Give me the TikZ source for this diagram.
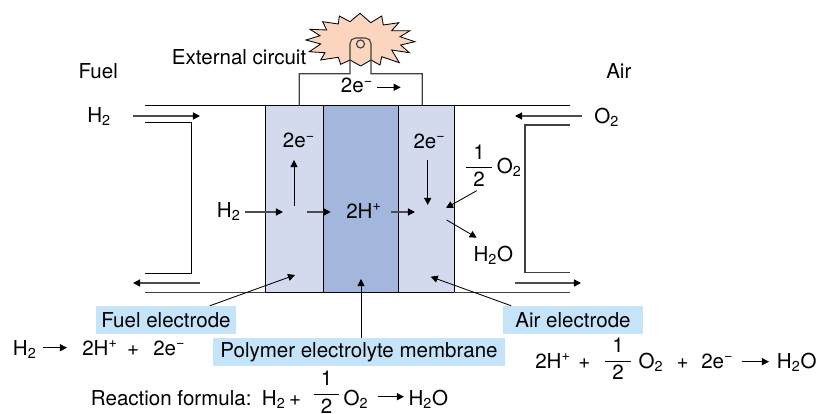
\documentclass[tikz,border=0pt]{standalone}
\usepackage{fontspec}
\setmainfont{TeX Gyre Heros}
\usetikzlibrary{arrows.meta}

\definecolor{plate}{HTML}{D3DAED}
\definecolor{membr}{HTML}{A3B7DC}
\definecolor{tagblue}{HTML}{C5E4F9}
\definecolor{burst}{HTML}{FBD5BD}

\newcommand{\px}{0.025cm}
\newcommand{\half}{$\displaystyle\frac{\mbox{1}}{\makebox[18pt]{2}}$}
\newcommand{\sbs}[1]{\textsubscript{#1}}
\newcommand{\sps}[1]{\textsuperscript{#1}}

\tikzset{
  every node/.style={font=\fontsize{14.6}{17}\selectfont,inner sep=0pt},
  lbl/.style={anchor=base west},
  mid/.style={anchor=base},
  tagbox/.style={fill=tagblue,minimum height=28*\px},
  wall/.style={line width=.6pt},
  flow/.style={-{Triangle[length=5pt,width=5pt]},line width=.6pt},
  gasflow/.style={-{Triangle[length=5pt,width=5pt,color=black]},color=black!70,line width=.9pt},
  channel/.style={color=black!75,line width=.8pt}
}

\begin{document}
\begin{tikzpicture}[x=\px,y=-\px]
  \useasboundingbox (0,0) rectangle (818,414);

  % cell
  \fill[plate] (265,105) rectangle (454,292.7);
  \fill[membr] (323.3,105) rectangle (398.3,292.7);
  \draw[wall] (265,105) rectangle (454,292.7);
  \draw[wall] (323.3,105) -- (323.3,292.7);
  \draw[wall] (398.3,105) -- (398.3,292.7);

  % channels
  \draw[wall] (145,105) -- (265,105);
  \draw[wall] (454,105) -- (570,105);
  \draw[channel] (145,292.7) -- (265,292.7);
  \draw[channel] (454,292.7) -- (570,292.7);
  \draw[wall] (145,122.7) -- (191.7,122.7) -- (191.7,273.3) -- (145,273.3);
  \draw[channel] (570,125) -- (525,125) -- (525,272.3) -- (570,272.3);

  % lamp and circuit
  \filldraw[fill=burst,wall] (360,13.3) -- (370.7,22.7) -- (381.7,16) -- (383.3,25)
    -- (398.7,22.7) -- (391.7,30.7) -- (410,30.7) -- (400,36.7) -- (415,41.7) -- (400.7,45)
    -- (409.3,52.7) -- (391.7,50) -- (399.3,62.7) -- (381.7,56.7) -- (380,65) -- (371,60)
    -- (360.7,66) -- (350,60) -- (340.7,64.3) -- (338.3,57.3) -- (320.7,60) -- (325,52.7)
    -- (309.3,51.7) -- (320.7,44) -- (306,40) -- (320,35.7) -- (310,29.3) -- (326.7,30)
    -- (322.7,21.7) -- (338.3,24) -- (339.3,16) -- (350,21.7) -- cycle;
  \draw[channel] (299.3,105) -- (299.3,73.7) -- (350,73.7)
    [rounded corners=4pt] -- (350,38) -- (371,38) [sharp corners] -- (371,73.7) -- (422.3,73.7) -- (422.3,105);
  \draw[channel] (360.5,44) circle (4);

  % texts
  \node[lbl] (fuel) at (78.3,78.3) {Fuel};
  \node[lbl] (air) at (606,78) {Air};
  \node[lbl] (circuit) at (171.7,64) {External circuit};
  \node[lbl] (fuelin) at (87,122) {H\sbs{2}};
  \node[lbl] (airin) at (594,123) {O\sbs{2}};
  \node[lbl] (eflow) at (340.7,92.7) {2e\sps{−}};
  \node[lbl] (eleft) at (282.7,147.7) {2e\sps{−}};
  \node[lbl] (eright) at (413.3,148) {2e\sps{−}};
  \node[lbl] (hyd) at (216.7,217.7) {H\sbs{2}};
  \node[lbl] (proton) at (346,218) {2H\sps{+}};
  \node[mid] (halfin) at (479,172.8) {\half};
  \node[lbl] (oxy) at (496.7,173.3) {O\sbs{2}};
  \node[lbl] (water) at (473.3,261) {H\sbs{2}O};

  \node[tagbox,minimum width=140*\px] (fueltag) at (166,320) {Fuel electrode};
  \node[tagbox,minimum width=140*\px] (airtag) at (573,320) {Air electrode};
  \node[tagbox,minimum width=292*\px] (polytag) at (359,352) {Polymer electrolyte membrane};

  % anode half reaction
  \node[lbl] (anH) at (12.7,355) {H\sbs{2}};
  \node[lbl] (anP) at (82,355) {2H\sps{+}};
  \node[mid] (anplus) at (133,355) {+};
  \node[lbl] (anE) at (153,355) {2e\sps{−}};

  % cathode half reaction
  \node[lbl] (caP) at (535,368.3) {2H\sps{+}};
  \node[mid] (caplus) at (584.3,368.3) {+};
  \node[mid] (cahalf) at (618,366) {\half};
  \node[lbl] (caO) at (638.3,368.3) {O\sbs{2}};
  \node[mid] (caplusb) at (682.7,368.3) {+};
  \node[lbl] (caE) at (701,368.3) {2e\sps{−}};
  \node[lbl] (caW) at (776.7,368.3) {H\sbs{2}O};

  % overall reaction
  \node[lbl] (reaction) at (90.7,405) {Reaction formula:};
  \node[lbl] (rxH) at (261.7,405) {H\sbs{2}};
  \node[mid] (rxplus) at (295,405) {+};
  \node[mid] (rxhalf) at (326.7,399.5) {\half};
  \node[lbl] (rxO) at (343.3,405) {O\sbs{2}};
  \node[lbl] (rxW) at (408.3,405) {H\sbs{2}O};

  % arrow ends
  \coordinate (fa) at (133,116);
  \coordinate (fb) at (200,116);
  \coordinate (fc) at (200,283);
  \coordinate (fd) at (133,283);
  \coordinate (oa) at (581.7,116);
  \coordinate (ob) at (515,116);
  \coordinate (oc) at (515,283);
  \coordinate (od) at (581,283);
  \coordinate (ea) at (377.3,87.3);
  \coordinate (eb) at (400.7,87.3);
  \coordinate (ha) at (245,212);
  \coordinate (hb) at (283,212);
  \coordinate (hc) at (306.7,212);
  \coordinate (hd) at (330.7,212);
  \coordinate (he) at (391,212);
  \coordinate (hf) at (415,212);
  \coordinate (ua) at (294,205.7);
  \coordinate (ub) at (294,160);
  \coordinate (da) at (427.7,160);
  \coordinate (db) at (427.7,205);
  \coordinate (qa) at (476.7,190.7);
  \coordinate (qb) at (446,208);
  \coordinate (wa) at (446.7,220);
  \coordinate (wb) at (476.7,237.7);
  \coordinate (ft) at (295,275);
  \coordinate (pt) at (361,279);
  \coordinate (at) at (430.7,276.7);
  \coordinate (ra) at (43,347.7);
  \coordinate (rb) at (67,347.7);
  \coordinate (rc) at (742.3,361.7);
  \coordinate (rd) at (769,361.7);
  \coordinate (re) at (378.3,396.7);
  \coordinate (rf) at (404,396.7);

  \draw[gasflow] (fa) -- (fb);
  \draw[gasflow] (fc) -- (fd);
  \draw[gasflow] (oa) -- (ob);
  \draw[gasflow] (oc) -- (od);
  \draw[flow] (ea) -- (eb);
  \draw[gasflow] (ha) -- (hb);
  \draw[gasflow] (hc) -- (hd);
  \draw[gasflow] (he) -- (hf);
  \draw[flow] (ua) -- (ub);
  \draw[flow] (da) -- (db);
  \draw[flow] (qa) -- (qb);
  \draw[flow] (wa) -- (wb);
  \draw[flow] (fueltag.18.4) -- (ft);
  \draw[flow] (pt |- polytag.north) -- (pt);
  \draw[flow] (airtag.167.3) -- (at);
  \draw[flow] (ra) -- (rb);
  \draw[flow] (rc) -- (rd);
  \draw[flow] (re) -- (rf);
\end{tikzpicture}
\end{document}
